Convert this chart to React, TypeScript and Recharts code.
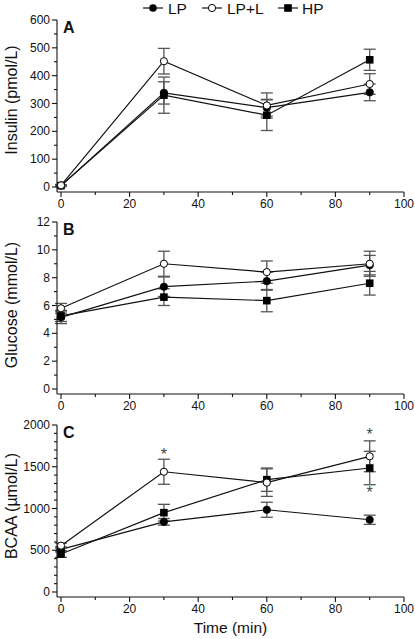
import { LineChart, Line, XAxis, YAxis, ErrorBar } from 'recharts';

const FONT = '"Liberation Sans", Arial, Helvetica, sans-serif';
const INK = '#111';
const BAR = '#555';

const times = [0, 30, 60, 90];
const xTicks = [0, 10, 20, 30, 40, 50, 60, 70, 80, 90, 100];

// panel A: insulin (pmol/L)
const insulinLP = [5, 338, 285, 340];
const insulinLPErr = [3, 40, 30, 30];
const insulinLPL = [6, 452, 293, 370];
const insulinLPLErr = [3, 46, 45, 37];
const insulinHP = [5, 330, 258, 457];
const insulinHPErr = [3, 65, 55, 38];
const insulinTicks = [0, 50, 100, 150, 200, 250, 300, 350, 400, 450, 500, 550, 600];

// panel B: glucose (mmol/L)
const glucoseLP = [5.15, 7.35, 7.75, 8.9];
const glucoseLPErr = [0.45, 0.7, 0.65, 0.7];
const glucoseLPL = [5.8, 9.0, 8.4, 9.0];
const glucoseLPLErr = [0.35, 0.9, 0.8, 0.9];
const glucoseHP = [5.25, 6.6, 6.35, 7.6];
const glucoseHPErr = [0.4, 0.6, 0.8, 0.85];
const glucoseTicks = [0, 1, 2, 3, 4, 5, 6, 7, 8, 9, 10, 11, 12];

// panel C: BCAA (µmol/L)
const bcaaLP = [510, 840, 985, 865];
const bcaaLPErr = [30, 40, 90, 55];
const bcaaLPL = [555, 1440, 1310, 1625];
const bcaaLPLErr = [30, 150, 165, 185];
const bcaaHP = [455, 950, 1345, 1485];
const bcaaHPErr = [40, 100, 140, 200];
const bcaaTicks = [
  0, 100, 200, 300, 400, 500, 600, 700, 800, 900, 1000, 1100, 1200, 1300, 1400, 1500,
  1600, 1700, 1800, 1900, 2000,
];
// where the significance asterisks sit (value axis units)
const bcaaStarLPL = [null, 1665, null, 1900];
const bcaaStarHP = [null, null, null, 1210];

const buildRows = (
  lp: number[], lpErr: number[], lpl: number[], lplErr: number[], hp: number[], hpErr: number[],
  starLPL?: (number | null)[], starHP?: (number | null)[]
) =>
  times.map((t, i) => ({
    t,
    lp: lp[i],
    lpErr: lpErr[i],
    lpl: lpl[i],
    lplErr: lplErr[i],
    hp: hp[i],
    hpErr: hpErr[i],
    starLPL: starLPL ? starLPL[i] : null,
    starHP: starHP ? starHP[i] : null,
  }));

const XTick = (props: any) => {
  const { x, y, payload } = props;
  const major = payload.value % 20 === 0;
  return (
    <g>
      <line x1={x} y1={y} x2={x} y2={y + (major ? 5 : 3)} stroke={INK} strokeWidth={1.1} />
      {major && (
        <text x={x} y={y + 16} textAnchor="middle" fontSize={12} fontFamily={FONT} fill={INK}>
          {payload.value}
        </text>
      )}
    </g>
  );
};

const makeYTick = (every: number) => (props: any) => {
  const { x, y, payload } = props;
  const major = payload.value % every === 0;
  return (
    <g>
      <line x1={x - (major ? 5 : 3)} y1={y} x2={x} y2={y} stroke={INK} strokeWidth={1.1} />
      {major && (
        <text x={x - 7} y={y} textAnchor="end" dominantBaseline="central" fontSize={12} fontFamily={FONT} fill={INK}>
          {payload.value}
        </text>
      )}
    </g>
  );
};

const squareDot = (props: any) => {
  const { cx, cy, key } = props;
  if (cx == null || cy == null) return <g key={key} />;
  return <rect key={key} x={cx - 3.8} y={cy - 3.8} width={7.6} height={7.6} fill="#000" />;
};

const starDot = (props: any) => {
  const { cx, cy, key } = props;
  if (cx == null || cy == null) return <g key={key} />;
  return (
    <text key={key} x={cx} y={cy + 7} textAnchor="middle" fontSize={16} fontFamily={FONT} fill="#444">
      *
    </text>
  );
};

type PanelProps = {
  data: any[];
  ticks: number[];
  every: number;
  yMax: number;
  title: string;
  letter: string;
  top: number;
  height: number;
  xAxisHeight: number;
  titleY: number;
  timeTitle?: boolean;
  stars?: boolean;
};

const Panel = ({ data, ticks, every, yMax, title, letter, top, height, xAxisHeight, titleY, timeTitle, stars }: PanelProps) => (
  <div style={{ position: 'absolute', left: 0, top }}>
    <LineChart width={415} height={height} data={data} margin={{ top: 20, right: 11, bottom: 0, left: 0 }}>
      <XAxis
        dataKey="t"
        type="number"
        domain={[0, 100]}
        ticks={xTicks}
        interval={0}
        padding={{ left: 4, right: 0 }}
        height={xAxisHeight}
        tickSize={0}
        tickMargin={0}
        tick={XTick}
        axisLine={{ stroke: INK, strokeWidth: 1.1 }}
        label={
          timeTitle
            ? { value: 'Time (min)', position: 'insideBottom', offset: 6, fontSize: 15.5, fontFamily: FONT, fill: INK }
            : undefined
        }
      />
      <YAxis
        type="number"
        domain={[0, yMax]}
        ticks={ticks}
        interval={0}
        padding={{ top: 0, bottom: 5 }}
        width={57}
        tickSize={0}
        tickMargin={0}
        tick={makeYTick(every)}
        axisLine={{ stroke: INK, strokeWidth: 1.1 }}
      />
      <text
        x={11}
        y={titleY}
        transform={`rotate(-90, 11, ${titleY})`}
        textAnchor="middle"
        dominantBaseline="central"
        fontSize={16}
        fontFamily={FONT}
        fill={INK}
      >
        {title}
      </text>
      <text x={63} y={33} fontSize={16} fontWeight="bold" fontFamily={FONT} fill={INK}>
        {letter}
      </text>
      <Line
        dataKey="hp"
        stroke={INK}
        strokeWidth={1.2}
        isAnimationActive={false}
        dot={squareDot}
        activeDot={false}
      >
        <ErrorBar dataKey="hpErr" direction="y" width={6} stroke={BAR} strokeWidth={1.3} />
      </Line>
      <Line
        dataKey="lp"
        stroke={INK}
        strokeWidth={1.2}
        isAnimationActive={false}
        dot={{ r: 3.8, fill: '#000', stroke: '#000', strokeWidth: 0.5 }}
        activeDot={false}
      >
        <ErrorBar dataKey="lpErr" direction="y" width={6} stroke={BAR} strokeWidth={1.3} />
      </Line>
      <Line
        dataKey="lpl"
        stroke={INK}
        strokeWidth={1.2}
        isAnimationActive={false}
        dot={{ r: 3.6, fill: '#fff', stroke: '#000', strokeWidth: 1 }}
        activeDot={false}
      >
        <ErrorBar dataKey="lplErr" direction="y" width={6} stroke={BAR} strokeWidth={1.3} />
      </Line>
      {stars && (
        <Line dataKey="starLPL" stroke="none" isAnimationActive={false} dot={starDot} activeDot={false} legendType="none" />
      )}
      {stars && (
        <Line dataKey="starHP" stroke="none" isAnimationActive={false} dot={starDot} activeDot={false} legendType="none" />
      )}
    </LineChart>
  </div>
);

const LegendRow = () => (
  <svg width={415} height={18} style={{ position: 'absolute', left: 0, top: 0 }}>
    <line x1={143} y1={8} x2={163} y2={8} stroke={INK} strokeWidth={1.2} />
    <circle cx={153} cy={8} r={3.8} fill="#000" />
    <text x={168} y={8} dominantBaseline="central" fontSize={15.5} fontFamily={FONT} fill={INK}>LP</text>
    <line x1={202} y1={8} x2={222} y2={8} stroke={INK} strokeWidth={1.2} />
    <circle cx={212} cy={8} r={3.6} fill="#fff" stroke="#000" strokeWidth={1} />
    <text x={227} y={8} dominantBaseline="central" fontSize={15.5} fontFamily={FONT} fill={INK}>LP+L</text>
    <line x1={278} y1={8} x2={298} y2={8} stroke={INK} strokeWidth={1.2} />
    <rect x={284.2} y={4.2} width={7.6} height={7.6} fill="#000" />
    <text x={302} y={8} dominantBaseline="central" fontSize={15.5} fontFamily={FONT} fill={INK}>HP</text>
  </svg>
);

const App = () => (
  <div style={{ position: 'absolute', left: 0, top: 0, width: 415, height: 639, background: '#fff' }}>
    <Panel
      data={buildRows(insulinLP, insulinLPErr, insulinLPL, insulinLPLErr, insulinHP, insulinHPErr)}
      ticks={insulinTicks}
      every={100}
      yMax={600}
      title="Insulin (pmol/L)"
      letter="A"
      top={0}
      height={215}
      xAxisHeight={23}
      titleY={100}
    />
    <Panel
      data={buildRows(glucoseLP, glucoseLPErr, glucoseLPL, glucoseLPLErr, glucoseHP, glucoseHPErr)}
      ticks={glucoseTicks}
      every={2}
      yMax={12}
      title="Glucose (mmol/L)"
      letter="B"
      top={202}
      height={215}
      xAxisHeight={23}
      titleY={103}
    />
    <Panel
      data={buildRows(bcaaLP, bcaaLPErr, bcaaLPL, bcaaLPLErr, bcaaHP, bcaaHPErr, bcaaStarLPL, bcaaStarHP)}
      ticks={bcaaTicks}
      every={500}
      yMax={2000}
      title="BCAA (µmol/L)"
      letter="C"
      top={405}
      height={234}
      xAxisHeight={42}
      titleY={101}
      timeTitle
      stars
    />
    <LegendRow />
  </div>
);

export default App;
